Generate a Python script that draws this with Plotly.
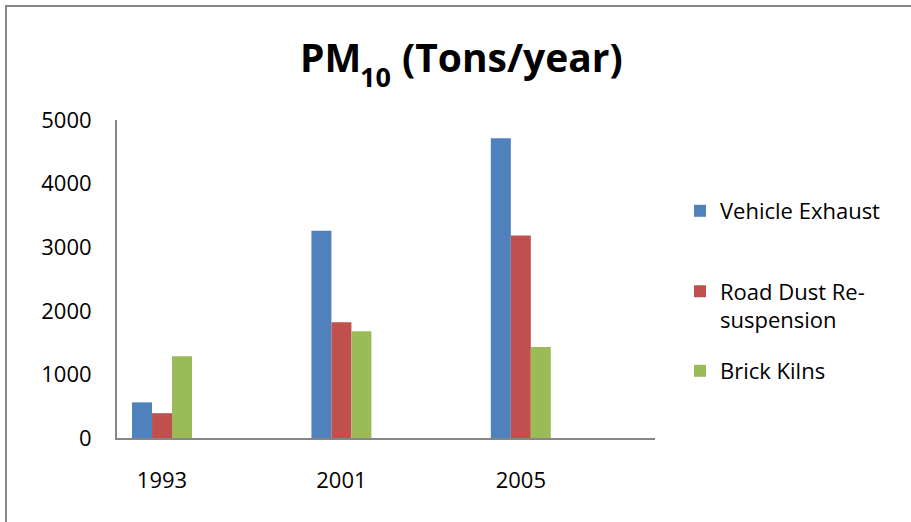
import plotly.graph_objects as go

years = ["1993", "2001", "2005"]
vehicle_exhaust = [560, 3260, 4715]
road_dust = [390, 1820, 3185]
brick_kilns = [1285, 1680, 1430]
series_names = ["Vehicle Exhaust", "Road Dust Re-<br>suspension", "Brick Kilns"]
colors = ["#4F81BD", "#C0504D", "#9BBB59"]
y_ticks = [0, 1000, 2000, 3000, 4000, 5000]

FONT = "Open Sans"
W, H = 911, 522
L, R, T, B = 117, 655, 120, 438  # plot area pixels


def px_x(p):
    return (p - L) / (R - L)


def px_y(p):
    return (B - p) / (B - T)


fig = go.Figure()
for i, (name, vals, col) in enumerate(zip(series_names, [vehicle_exhaust, road_dust, brick_kilns], colors)):
    fig.add_trace(go.Bar(
        x=years, y=vals, name=name, marker=dict(color=col, line=dict(width=0)),
        legend="legend" if i == 0 else f"legend{i+1}",
    ))

legend_common = dict(
    font=dict(family=FONT, size=22, color="#000000"),
    bgcolor="rgba(0,0,0,0)", borderwidth=0, xanchor="left", yanchor="middle",
    x=px_x(680), valign="top", itemclick=False,
)

fig.update_layout(
    width=W, height=H,
    margin=dict(l=L, r=W - R, t=T, b=H - B, pad=0),
    paper_bgcolor="white", plot_bgcolor="white",
    barmode="group", bargap=0.6656, bargroupgap=0,
    showlegend=True,
    legend=dict(**legend_common, y=px_y(211)),
    legend2=dict(**legend_common, y=px_y(306)),
    legend3=dict(**legend_common, y=px_y(371)),
    xaxis=dict(
        type="category", range=[-0.251, 2.748], showgrid=False, zeroline=False,
        showline=True, linecolor="#868686", linewidth=2, ticks="",
        tickfont=dict(family=FONT, size=22, color="#000000"),
        ticklabelstandoff=22, fixedrange=True,
    ),
    yaxis=dict(
        range=[0, 5000], tickvals=y_ticks, showgrid=False, zeroline=False,
        showline=True, linecolor="#868686", linewidth=2, ticks="",
        tickfont=dict(family=FONT, size=22, color="#000000"),
        ticklabelstandoff=19, fixedrange=True,
    ),
    font=dict(family=FONT, color="#000000"),
)

# outer chart border (partially visible, as in the reference)
fig.add_shape(type="rect", xref="paper", yref="paper",
              x0=px_x(6), x1=px_x(930), y0=px_y(540), y1=px_y(6),
              line=dict(color="#868686", width=2), fillcolor="rgba(0,0,0,0)", layer="below")

# title: PM with a subscript 10
title_font = dict(family=FONT, size=39, color="#000000")
fig.add_annotation(text="<b>PM</b>", xref="paper", yref="paper", x=px_x(363), y=px_y(56),
                   xanchor="right", yanchor="middle", showarrow=False, font=title_font)
fig.add_annotation(text="<b>10</b>", xref="paper", yref="paper", x=px_x(358), y=px_y(76),
                   xanchor="left", yanchor="middle", showarrow=False,
                   font=dict(family=FONT, size=27, color="#000000"))
fig.add_annotation(text="<b>(Tons/year)</b>", xref="paper", yref="paper", x=px_x(400), y=px_y(56),
                   xanchor="left", yanchor="middle", showarrow=False, font=title_font)

fig.write_html("out.html", config={"displayModeBar": False},
               post_script="document.body.style.margin='0px';")
